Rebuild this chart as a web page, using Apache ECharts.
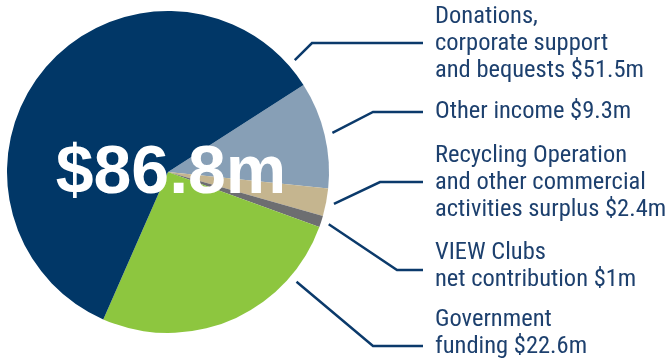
<!DOCTYPE html>
<html>
<head>
<meta charset="utf-8">
<script src="https://cdn.jsdelivr.net/npm/echarts@6/dist/echarts.min.js"></script>
<style>
  html, body { margin: 0; padding: 0; background: #ffffff; }
  #chart { width: 665px; height: 363px; }
</style>
</head>
<body>
<div id="chart"></div>
<script>
// Income sources (in $ millions), listed clockwise from the upper-right edge of the pie
const categories = [
  'Other income',
  'Recycling Operation\nand other commercial\nactivities surplus',
  'VIEW Clubs\nnet contribution',
  'Government\nfunding',
  'Donations,\ncorporate support\nand bequests'
];
const values = [9.3, 2.4, 1, 22.6, 51.5];
const sliceColors = ['#879fb6', '#c5b58f', '#6d6e71', '#8dc63f', '#013767'];

const total = values.reduce((a, b) => a + b, 0);

const CX = 168, CY = 172, R = 161;
const START = 32.7;

// Leader-line geometry per label: anchor angle on the rim, elbow x, line y, text block centre y
const leader = [
  { angle: 13.4,  elbowX: 373, lineY: 112, textY: 112 },
  { angle: -10.9, elbowX: 380, lineY: 182, textY: 183 },
  { angle: -18,   elbowX: 397, lineY: 270, textY: 266 },
  { angle: -40.5, elbowX: 373, lineY: 346, textY: 333 },
  { angle: 41.4,  elbowX: 312, lineY: 43,  textY: 44 }
];
const LINE_END_X = 423, TEXT_X = 435, ANCHOR_R = 169;

const chart = echarts.init(document.getElementById('chart'), null, { renderer: 'canvas' });

chart.setOption({
  animation: false,
  backgroundColor: '#ffffff',
  series: [{
    type: 'pie',
    center: [CX, CY],
    radius: [0, R],
    startAngle: START,
    clockwise: true,
    avoidLabelOverlap: false,
    itemStyle: { borderWidth: 0 },
    data: categories.map((name, i) => ({
      name: name,
      value: values[i],
      itemStyle: { color: sliceColors[i] }
    })),
    label: {
      show: true,
      position: 'outside',
      formatter: p => p.name + ' $' + p.value + 'm',
      color: '#1d406e',
      fontFamily: '"Roboto Condensed", "DejaVu Sans Condensed", sans-serif',
      fontSize: 24.5,
      lineHeight: 27,
      align: 'left'
    },
    labelLine: {
      show: true,
      lineStyle: { color: '#0b3a6b', width: 2.5 }
    },
    labelLayout: function (params) {
      const L = leader[params.dataIndex];
      const a = L.angle * Math.PI / 180;
      const sx = CX + ANCHOR_R * Math.cos(a);
      const sy = CY - ANCHOR_R * Math.sin(a);
      return {
        x: TEXT_X,
        y: L.textY,
        align: 'left',
        verticalAlign: 'middle',
        hideOverlap: false,
        moveOverlap: null,
        labelLinePoints: [[sx, sy], [L.elbowX, L.lineY], [LINE_END_X, L.lineY]]
      };
    }
  }],
  graphic: [{
    type: 'text',
    x: 171,
    y: 174,
    z: 100,
    style: {
      text: '$' + total.toFixed(1) + 'm',
      fill: '#ffffff',
      font: 'bold 68px "Liberation Sans", sans-serif',
      align: 'center',
      verticalAlign: 'middle'
    }
  }]
});
</script>
</body>
</html>
